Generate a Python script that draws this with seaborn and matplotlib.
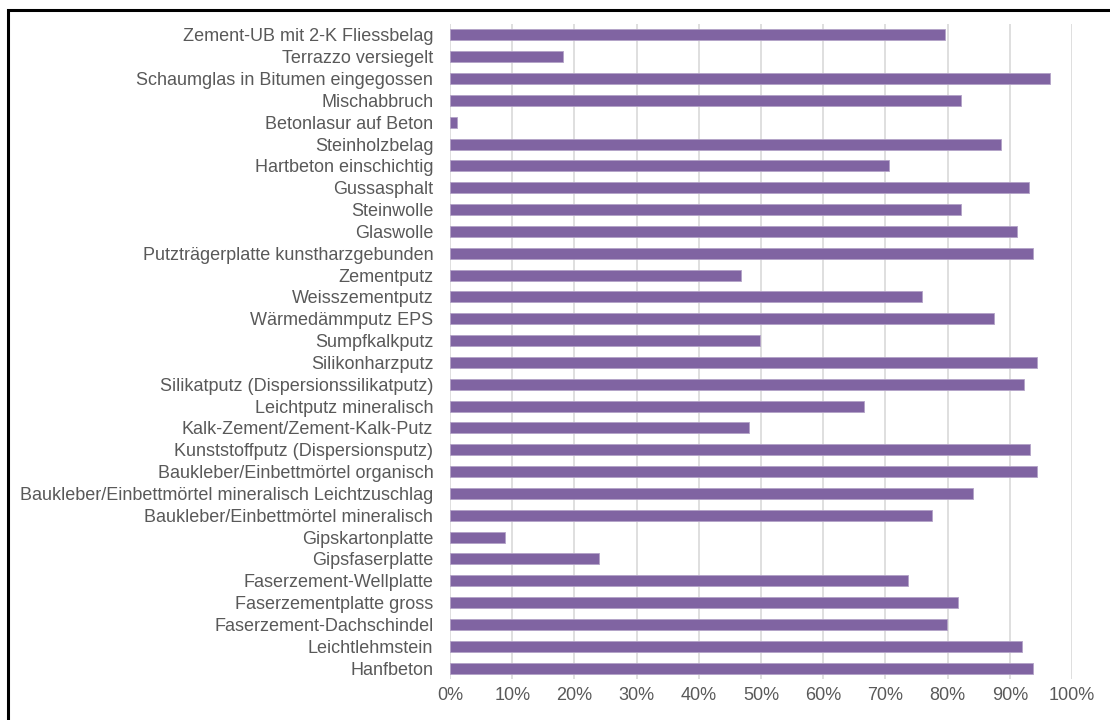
import numpy as np
import pandas as pd
import matplotlib.pyplot as plt
import seaborn as sns
from matplotlib.ticker import PercentFormatter

# Daten (von oben nach unten)
materialien = [
    "Zement-UB mit 2-K Fliessbelag",
    "Terrazzo versiegelt",
    "Schaumglas in Bitumen eingegossen",
    "Mischabbruch",
    "Betonlasur auf Beton",
    "Steinholzbelag",
    "Hartbeton einschichtig",
    "Gussasphalt",
    "Steinwolle",
    "Glaswolle",
    "Putzträgerplatte kunstharzgebunden",
    "Zementputz",
    "Weisszementputz",
    "Wärmedämmputz EPS",
    "Sumpfkalkputz",
    "Silikonharzputz",
    "Silikatputz (Dispersionssilikatputz)",
    "Leichtputz mineralisch",
    "Kalk-Zement/Zement-Kalk-Putz",
    "Kunststoffputz (Dispersionsputz)",
    "Baukleber/Einbettmörtel organisch",
    "Baukleber/Einbettmörtel mineralisch Leichtzuschlag",
    "Baukleber/Einbettmörtel mineralisch",
    "Gipskartonplatte",
    "Gipsfaserplatte",
    "Faserzement-Wellplatte",
    "Faserzementplatte gross",
    "Faserzement-Dachschindel",
    "Leichtlehmstein",
    "Hanfbeton",
]
anteil = [
    79.5, 18.1, 96.4, 82.2, 1.2, 88.5, 70.5, 93.1, 82.2, 91.2,
    93.7, 46.8, 75.9, 87.5, 49.9, 94.4, 92.3, 66.6, 48.1, 93.3,
    94.3, 84.1, 77.5, 8.9, 23.9, 73.7, 81.6, 79.9, 91.9, 93.8,
]
x_ticks = list(range(0, 101, 10))

df = pd.DataFrame({"material": materialien, "anteil": anteil})

sns.set_style("white")
plt.rcParams["font.family"] = ["Liberation Sans", "DejaVu Sans"]

fig = plt.figure(figsize=(11.1, 7.2), dpi=100)
ax = fig.add_axes([0.4054, 0.0569, 0.9658 - 0.4054, 0.9667 - 0.0569])

sns.barplot(
    data=df, x="anteil", y="material", orient="h", ax=ax,
    color="#8064a2", saturation=1, width=0.5,
    edgecolor="#b3a2c7", linewidth=0.6,
)

ax.set_xlim(0, 100)
ax.set_xticks(x_ticks)
ax.xaxis.set_major_formatter(PercentFormatter(decimals=0))
ax.grid(axis="x", color="#d9d9d9", linewidth=1.2)
ax.set_axisbelow(True)
for s in ax.spines.values():
    s.set_visible(False)
ax.set_xlabel("")
ax.set_ylabel("")
ax.tick_params(axis="both", length=0, labelsize=13, labelcolor="#595959")
ax.tick_params(axis="y", pad=12)
ax.tick_params(axis="x", pad=6)

# schwarzer Rahmen (nur links und oben sichtbar)
fig.add_artist(plt.Rectangle(
    (7.5 / 1110, -0.2), 2, 1.2 - 9.5 / 720,
    transform=fig.transFigure, fill=False, edgecolor="black", linewidth=2.2,
    clip_on=False,
))

fig.savefig("out.png", dpi=100)
